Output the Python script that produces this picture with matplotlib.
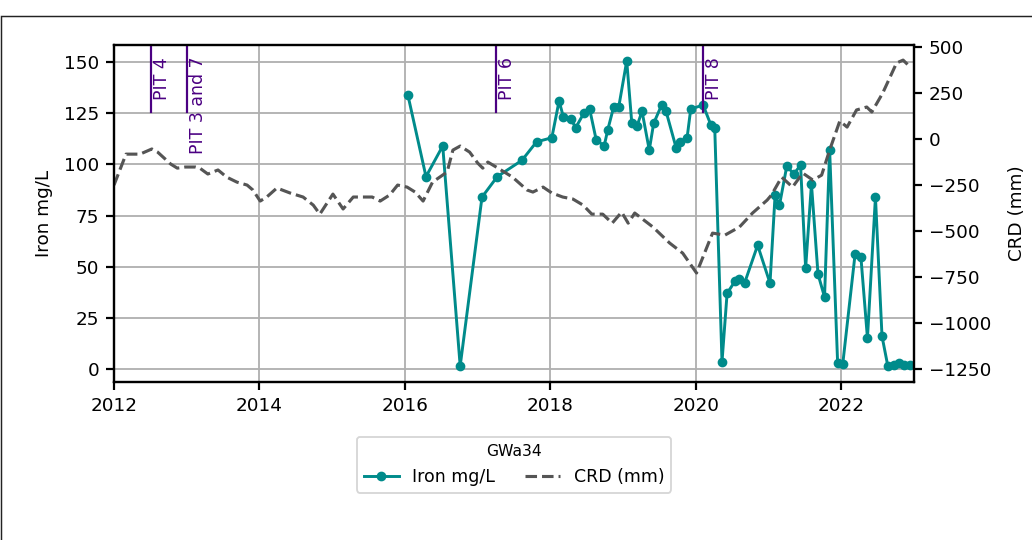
import matplotlib
matplotlib.use("Agg")
import matplotlib.pyplot as plt
from matplotlib.patches import Rectangle

# ---------------- data ----------------
iron_t = [2016.04, 2016.29, 2016.52, 2016.76, 2017.06, 2017.27, 2017.61, 2017.81,
          2018.02, 2018.12, 2018.18, 2018.28, 2018.35, 2018.46, 2018.54, 2018.63,
          2018.74, 2018.79, 2018.87, 2018.94, 2019.05, 2019.12, 2019.19, 2019.26,
          2019.36, 2019.42, 2019.53, 2019.59, 2019.73, 2019.78, 2019.88, 2019.93,
          2020.10, 2020.21, 2020.26, 2020.36, 2020.43, 2020.54, 2020.60, 2020.67,
          2020.85, 2021.02, 2021.09, 2021.15, 2021.25, 2021.35, 2021.44, 2021.51,
          2021.59, 2021.68, 2021.77, 2021.84, 2021.95, 2022.02, 2022.19, 2022.27,
          2022.36, 2022.47, 2022.56, 2022.64, 2022.72, 2022.79, 2022.86, 2022.94]
iron_v = [134, 94, 109, 1.5, 84, 94, 102, 111,
          113, 131, 123, 122, 118, 125, 127, 112,
          109, 117, 128, 128, 150.5, 120, 118.5, 126,
          107, 120, 129, 126, 108, 111, 113, 127,
          129, 119, 118, 3.5, 37, 43, 44, 42,
          60.5, 42, 85, 80, 99, 95.3, 99.7, 49.3,
          90.4, 46.4, 35.2, 107, 2.9, 2.4, 56.2, 54.7,
          15.1, 84, 16.1, 1.5, 2.2, 2.9, 1.8, 2.0]

crd_t = [2012.00, 2012.165, 2012.357, 2012.52, 2012.60, 2012.78, 2012.87, 2012.98,
         2013.12, 2013.18, 2013.29, 2013.43, 2013.55, 2013.69, 2013.83, 2013.91,
         2014.01, 2014.10, 2014.24, 2014.42, 2014.60, 2014.74, 2014.83, 2015.01,
         2015.15, 2015.29, 2015.48, 2015.55, 2015.66, 2015.79, 2015.90, 2016.03,
         2016.14, 2016.25, 2016.38, 2016.58, 2016.66, 2016.76, 2016.89, 2017.00,
         2017.07, 2017.14, 2017.28, 2017.48, 2017.68, 2017.76, 2017.90, 2018.02,
         2018.17, 2018.31, 2018.45, 2018.57, 2018.72, 2018.85, 2018.98, 2019.07,
         2019.16, 2019.41, 2019.64, 2019.82, 2020.01, 2020.23, 2020.40, 2020.60,
         2020.78, 2020.98, 2021.04, 2021.18, 2021.33, 2021.47, 2021.61, 2021.73,
         2021.84, 2021.98, 2022.08, 2022.21, 2022.35, 2022.42, 2022.57, 2022.76,
         2022.85, 2022.92]
crd_v = [-250, -82, -82, -54, -71, -136, -158, -152,
         -152, -158, -190, -168, -207, -234, -250, -277,
         -337, -315, -266, -293, -315, -359, -408, -299,
         -380, -315, -315, -315, -337, -304, -250, -261,
         -288, -337, -234, -179, -60, -38, -71, -130,
         -158, -125, -158, -207, -277, -288, -261, -293,
         -315, -326, -359, -408, -408, -457, -397, -457,
         -402, -478, -565, -620, -728, -511, -522, -478,
         -402, -332, -304, -207, -261, -185, -223, -196,
         -60, 98, 65, 158, 174, 147, 250, 413,
         429, 402]

pit_t = [2012.51, 2013.0, 2017.25, 2020.10]
pit_labels = ["PIT 4", "PIT 3 and 7", "PIT 6", "PIT 8"]

xticks = [2012, 2014, 2016, 2018, 2020, 2022]
left_ticks = [0, 25, 50, 75, 100, 125, 150]
right_ticks = [-1250, -1000, -750, -500, -250, 0, 250, 500]

# ---------------- figure ----------------
DPI = 132
fig = plt.figure(figsize=(1032 / DPI, 540 / DPI), dpi=DPI)
fig.patches.append(Rectangle((1 / 1032, -0.2), 1.5, 0.2 + 1 - 15.5 / 540,
                             transform=fig.transFigure, fill=False,
                             edgecolor="#222222", linewidth=0.8))

ax = fig.add_axes([114 / 1032, 1 - 382 / 540, 800 / 1032, 337 / 540])
ax2 = ax.twinx()

teal = "#008B8B"
l1, = ax.plot(iron_t, iron_v, color=teal, marker="o", markersize=4.3,
              linewidth=1.6, label="Iron mg/L")
l2, = ax2.plot(crd_t, crd_v, color="#555555", linestyle="--", linewidth=1.7,
               label="CRD (mm)")

ax.set_xlim(2012, 2023)
ax.set_ylim(-6.3, 158.3)
ax2.set_ylim(-1320, 511)
ax.set_xticks(xticks)
ax.set_xticklabels([str(t) for t in xticks])
ax.set_yticks(left_ticks)
ax2.set_yticks(right_ticks)
ax.grid(True, color="#b0b0b0", linewidth=1.0)

for s in list(ax.spines.values()) + list(ax2.spines.values()):
    s.set_linewidth(1.2)
ax.tick_params(width=1.2, length=4.5)
ax2.tick_params(width=1.2, length=4.5)

ax.set_ylabel("Iron mg/L", labelpad=6)
ax2.set_ylabel("CRD (mm)", labelpad=9)

purple = "#4B0082"
trans = ax.get_xaxis_transform()
for t, lab in zip(pit_t, pit_labels):
    ax.axvline(t, ymin=0.8, ymax=1.0, color=purple, linewidth=1.2)
    ax.text(t + 0.03, 0.965, lab, transform=trans, rotation=90, ha="left",
            va="top", color=purple, fontsize=9.5)

leg = ax.legend(handles=[l1, l2], title="GWa34", ncol=2, loc="upper center",
                bbox_to_anchor=(0.5, -0.163), borderaxespad=0, fontsize=9.5,
                title_fontsize=8.5, columnspacing=1.7)

fig.savefig("out.png", dpi=DPI)
